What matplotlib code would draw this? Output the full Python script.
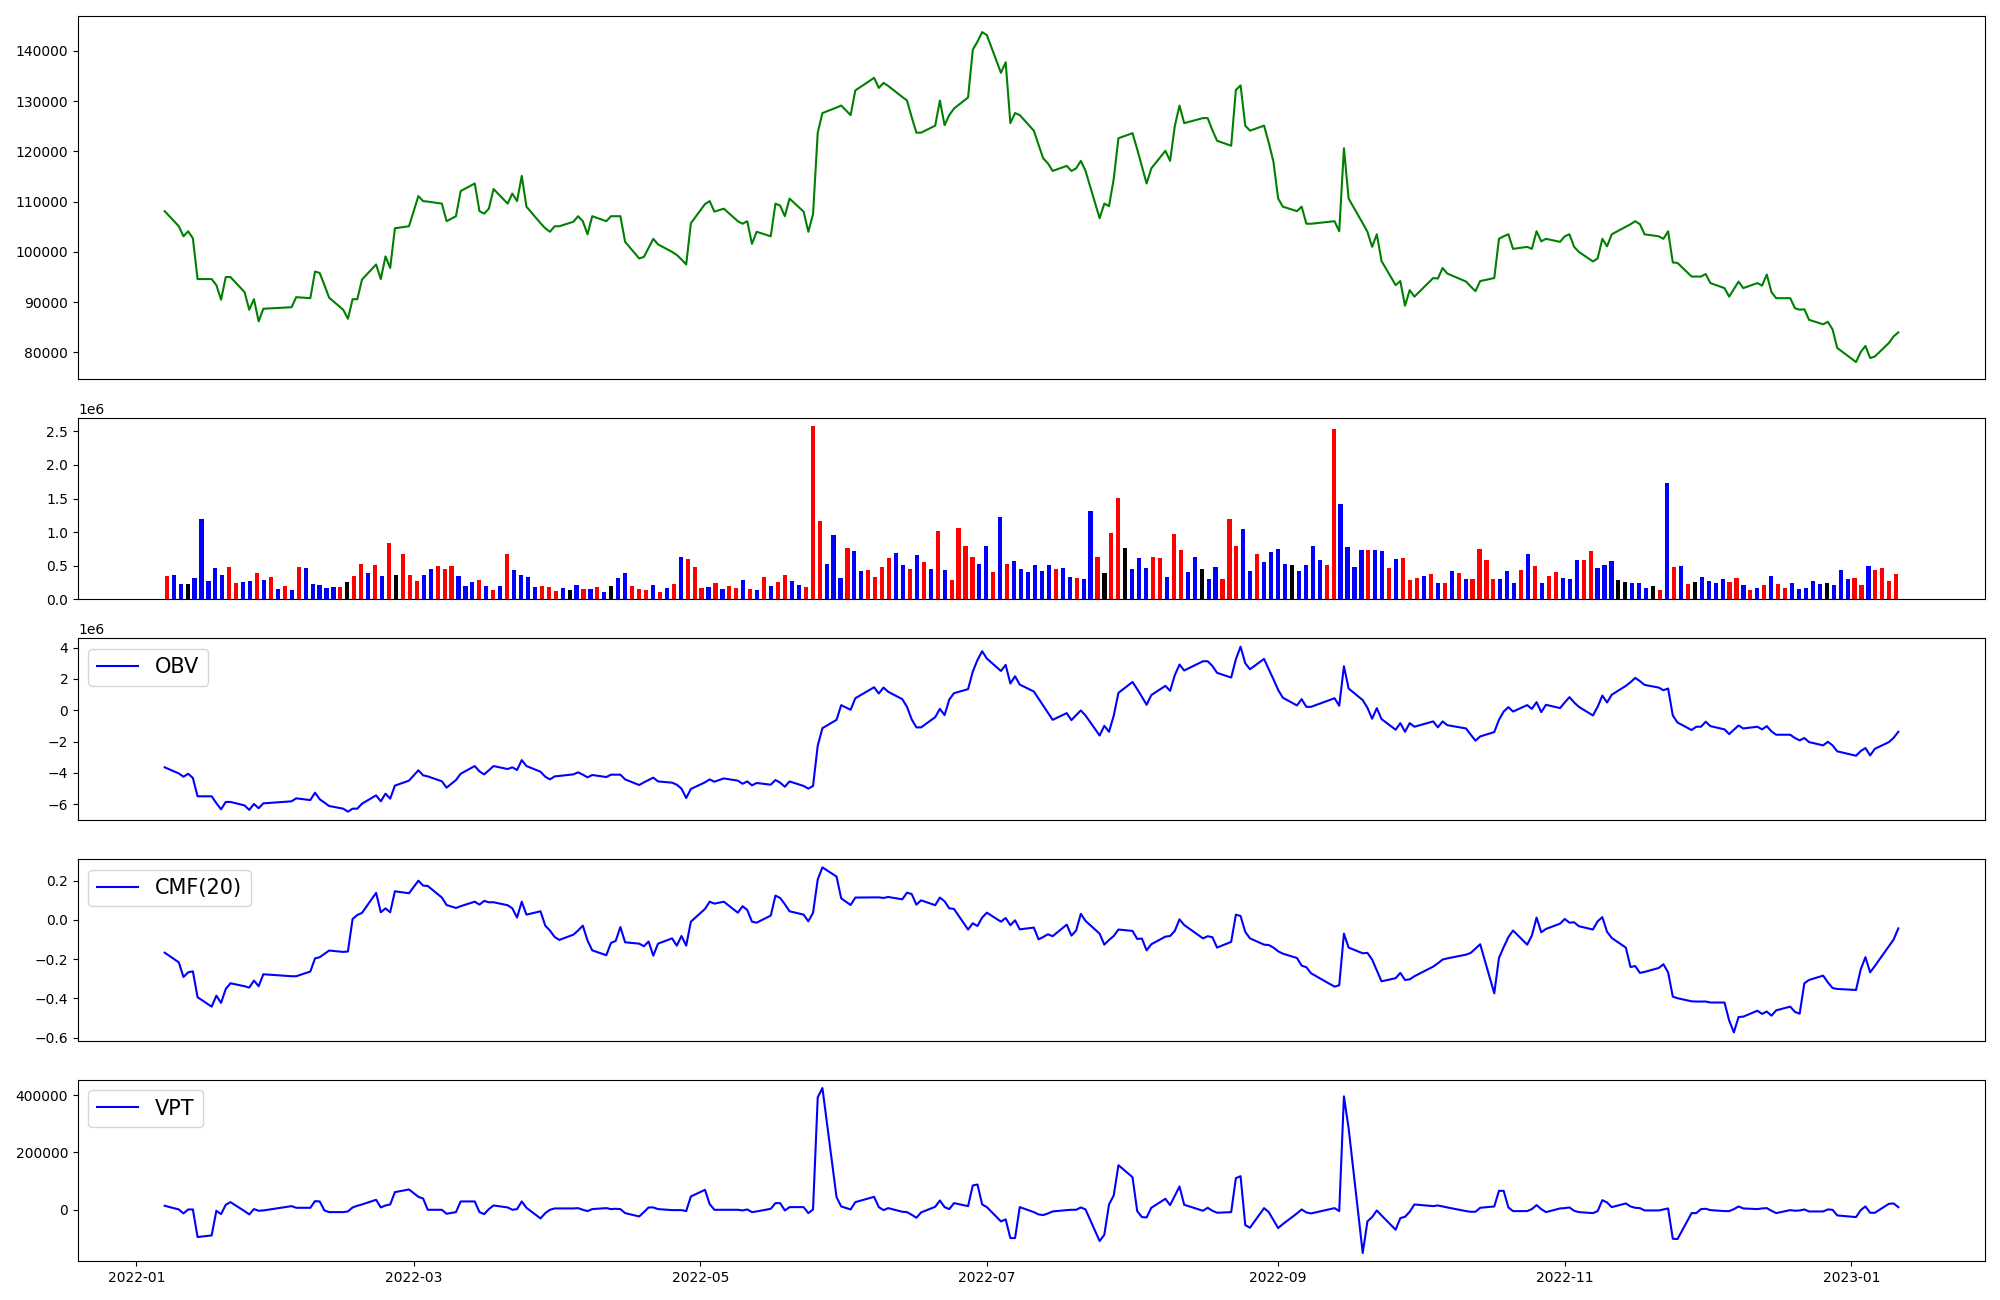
import matplotlib
matplotlib.use("Agg")
import matplotlib.pyplot as plt
import matplotlib.dates as mdates
import numpy as np
import pandas as pd

# jours de bourse KRX (jours fériés en semaine exclus)
feries = ["2022-01-31", "2022-02-01", "2022-02-02", "2022-03-01", "2022-03-09",
          "2022-05-05", "2022-06-01", "2022-06-06", "2022-08-15", "2022-09-09",
          "2022-09-12", "2022-10-03", "2022-10-10", "2022-12-30"]
dates = pd.bdate_range("2022-01-07", "2023-01-11", freq="C", holidays=feries)

close = [
    108100, 105100, 103100, 104100, 102700, 94600, 94600, 93400, 90500, 95000, 95000, 92000, 88500, 90600, 86200, 88700,
    89000, 91000, 90800, 96100, 95800, 93400, 90900, 88500, 86700, 90600, 90600, 94500, 97500, 94600, 99100, 96800, 104700, 105100,
    111100, 110100, 110000, 109600, 106100, 107100, 112100, 113600, 108100, 107600, 108600, 112500, 109600, 111600, 110100, 115100, 109000, 105700, 104700, 104000, 105100,
    105100, 106000, 107100, 106100, 103500, 107100, 106100, 107100, 107100, 107100, 102000, 98700, 99000, 100800, 102600, 101500, 100000, 99400, 98500, 97500, 105700,
    109500, 110100, 108000, 108600, 106100, 105600, 106100, 101600, 104000, 103100, 109600, 109200, 107100, 110600, 108000, 104000, 107500, 123700, 127600, 128700, 129100,
    127200, 132100, 134600, 132600, 133600, 133000, 130800, 130100, 126800, 123700, 123700, 125100, 130100, 125200, 127200, 128500, 130700, 140200, 141800, 143700,
    143100, 135600, 137700, 125600, 127600, 127200, 124100, 121300, 118600, 117600, 116100, 117100, 116100, 116600, 118100, 116100, 106700, 109600, 109100, 114500, 122600,
    123600, 120400, 117000, 113600, 116600, 120100, 118100, 125000, 129100, 125600, 126600, 126600, 124200, 122100, 121100, 132200, 133100, 125100, 124100, 125100, 121700, 117900,
    110600, 109000, 108100, 109000, 105600, 105600, 106100, 104100, 120600, 110600, 105700, 104000, 101000, 103500, 98200, 93400, 94200, 89300, 92400, 91100,
    94800, 94700, 96800, 95700, 94100, 93100, 92200, 94200, 94800, 102600, 103100, 103500, 100600, 101000, 100600, 104100, 102100, 102600, 102000,
    103100, 103500, 101000, 100000, 98100, 98700, 102600, 101100, 103500, 105000, 105500, 106100, 105500, 103500, 103100, 102600, 104100, 97900, 97800, 95100, 95100, 95100,
    95600, 93800, 92800, 91100, 92600, 94100, 92800, 93800, 93300, 95500, 92000, 90800, 90800, 88800, 88500, 88600, 86500, 85600, 86100, 84600, 80900,
    78100, 80100, 81300, 78900, 79200, 81900, 83200, 84000,
]

# volume en milliers de titres
volume_k = [
    342, 357, 223, 223, 313, 1190, 268, 461, 357, 476, 238, 253, 268, 387, 283, 327,
    149, 193, 134, 476, 461, 223, 208, 164, 179, 179, 253, 342, 521, 387, 506, 342, 833, 357,
    670, 357, 268, 357, 446, 491, 446, 491, 342, 193, 253, 283, 193, 134, 193, 670, 432, 357, 327, 179, 193,
    179, 119, 164, 134, 208, 149, 149, 179, 104, 193, 313, 387, 193, 149, 134, 208, 104, 164, 223, 625, 595,
    476, 164, 179, 238, 149, 193, 164, 283, 149, 134, 327, 193, 253, 357, 268, 208, 179, 2574, 1161, 521, 952,
    313, 759, 714, 417, 432, 327, 476, 610, 685, 506, 446, 655, 551, 446, 1012, 432, 283, 1057, 789, 625,
    521, 789, 402, 1220, 521, 565, 446, 402, 506, 417, 506, 446, 461, 327, 313, 298, 1310, 625, 387, 982, 1503,
    759, 446, 610, 461, 625, 610, 327, 967, 729, 402, 625, 446, 298, 476, 298, 1190, 789, 1042, 417, 670, 551, 699,
    744, 521, 506, 417, 506, 789, 580, 506, 2530, 1414, 774, 476, 729, 729, 729, 714, 461, 595, 610, 283,
    313, 342, 372, 238, 238, 417, 387, 298, 298, 744, 580, 298, 298, 417, 238, 432, 670, 491, 238,
    342, 402, 313, 298, 580, 580, 714, 461, 506, 565, 283, 253, 238, 238, 164, 193, 134, 1726, 476, 491, 223, 253,
    327, 268, 238, 298, 253, 313, 208, 134, 164, 208, 342, 223, 164, 238, 149, 164, 268, 223, 238, 208, 432,
    298, 313, 208, 491, 432, 461, 268, 372,
]

# r = hausse, b = baisse, k = inchangé
sens = ("rbbkbbbbbrrbbrbr" "brbrbbbbbrkrrbrbrk" "rrrbbrrrbbbrbrbrbbbbr" "rrbkbrbrbkbbrrrbrbrbr"
        "rrbrbrrbrbrbrrbbrrrbb" "brbbrrrrbbrbrbrbrrrr" "bbrbrbbbbbbrbbrbbrkrr" "kbbbrrbrrbbkbbrrrbbrbb"
        "bbkbbbbrrbbbbrbbrbrr" "rbrbrbrbrrrrbbbrbrb" "rrbbbrrbbbkkbbbkrbrbrk" "bbbbrrbrbrbrrbbbbbkbb"
        "brrbrrrr")

# OBV en millions
obv_m = [
    -3.64, -4.03, -4.24, -4.05, -4.32, -5.49, -5.49, -5.93, -6.32, -5.85, -5.85, -6.07, -6.36, -5.98, -6.25, -5.94,
    -5.81, -5.62, -5.73, -5.26, -5.68, -5.89, -6.11, -6.28, -6.47, -6.28, -6.28, -5.96, -5.43, -5.81, -5.32, -5.64, -4.81, -4.49,
    -3.83, -4.15, -4.22, -4.53, -4.94, -4.45, -4.05, -3.56, -3.90, -4.09, -3.83, -3.56, -3.75, -3.64, -3.81, -3.18, -3.56, -3.92, -4.24, -4.41, -4.22,
    -4.19, -4.09, -3.96, -4.11, -4.28, -4.13, -4.26, -4.11, -4.11, -4.11, -4.41, -4.77, -4.60, -4.45, -4.30, -4.54, -4.62, -4.75, -5.00, -5.60, -5.02,
    -4.60, -4.41, -4.56, -4.35, -4.49, -4.69, -4.54, -4.79, -4.64, -4.75, -4.45, -4.62, -4.88, -4.54, -4.83, -5.00, -4.83, -2.26, -1.14, -0.61, 0.33,
    0.03, 0.77, 1.47, 1.07, 1.45, 1.18, 0.71, 0.22, -0.58, -1.09, -1.09, -0.44, 0.09, -0.31, 0.69, 1.09, 1.35, 2.47, 3.21, 3.77,
    3.30, 2.51, 2.90, 1.71, 2.17, 1.64, 1.20, 0.75, 0.29, -0.16, -0.61, -0.18, -0.63, -0.31, -0.01, -0.33, -1.61, -0.99, -1.37, -0.35, 1.11,
    1.81, 1.35, 0.86, 0.35, 0.97, 1.56, 1.24, 2.24, 2.92, 2.54, 3.13, 3.13, 2.83, 2.39, 2.09, 3.26, 4.06, 3.00, 2.62, 3.28, 2.62, 1.98,
    1.30, 0.80, 0.31, 0.71, 0.22, 0.22, 0.77, 0.29, 2.81, 1.39, 0.65, 0.16, -0.54, 0.14, -0.56, -1.24, -0.82, -1.37, -0.82, -1.05,
    -0.71, -1.09, -0.71, -0.95, -1.16, -1.56, -1.94, -1.67, -1.39, -0.61, -0.08, 0.20, -0.08, 0.33, 0.09, 0.52, -0.12, 0.35, 0.14,
    0.50, 0.84, 0.50, 0.22, -0.33, 0.22, 0.94, 0.50, 0.99, 1.56, 1.79, 2.07, 1.86, 1.62, 1.45, 1.28, 1.39, -0.33, -0.78, -1.26, -1.05, -1.05,
    -0.73, -1.01, -1.22, -1.52, -1.24, -0.97, -1.16, -1.05, -1.22, -1.01, -1.35, -1.56, -1.56, -1.77, -1.92, -1.77, -2.03, -2.24, -2.01, -2.24, -2.62,
    -2.90, -2.60, -2.41, -2.88, -2.46, -2.03, -1.76, -1.37,
]

cmf20 = [
    -0.167, -0.216, -0.291, -0.267, -0.262, -0.394, -0.442, -0.386, -0.423, -0.352, -0.323, -0.338, -0.345, -0.309, -0.338, -0.277,
    -0.287, -0.287, -0.263, -0.196, -0.190, -0.173, -0.156, -0.163, -0.161, 0.005, 0.025, 0.036, 0.138, 0.039, 0.059, 0.039, 0.146, 0.136,
    0.200, 0.175, 0.173, 0.114, 0.076, 0.061, 0.070, 0.093, 0.078, 0.097, 0.090, 0.090, 0.075, 0.059, 0.012, 0.093, 0.027, 0.044, -0.029, -0.054, -0.087,
    -0.102, -0.075, -0.054, -0.029, -0.105, -0.155, -0.180, -0.117, -0.107, -0.036, -0.114, -0.121, -0.134, -0.110, -0.182, -0.121, -0.094, -0.131, -0.082, -0.131, -0.009,
    0.056, 0.093, 0.083, 0.093, 0.037, 0.070, 0.051, -0.009, -0.014, 0.022, 0.124, 0.112, 0.080, 0.044, 0.027, -0.007, 0.036, 0.206, 0.268, 0.221, 0.110,
    0.076, 0.114, 0.115, 0.115, 0.112, 0.117, 0.105, 0.139, 0.132, 0.078, 0.100, 0.075, 0.114, 0.095, 0.059, 0.056, -0.049, -0.017, -0.031, 0.012,
    0.037, -0.009, 0.010, -0.027, -0.002, -0.048, -0.039, -0.099, -0.087, -0.073, -0.083, -0.024, -0.080, -0.054, 0.031, -0.005, -0.070, -0.126, -0.102, -0.082, -0.049,
    -0.056, -0.097, -0.095, -0.155, -0.124, -0.085, -0.082, -0.056, 0.003, -0.026, -0.094, -0.083, -0.088, -0.141, -0.112, 0.027, 0.020, -0.061, -0.094, -0.126, -0.128, -0.141,
    -0.160, -0.172, -0.194, -0.233, -0.241, -0.272, -0.340, -0.333, -0.070, -0.141, -0.170, -0.168, -0.202, -0.257, -0.313, -0.297, -0.270, -0.306, -0.303, -0.287,
    -0.238, -0.221, -0.202, -0.196, -0.177, -0.168, -0.146, -0.124, -0.374, -0.194, -0.139, -0.088, -0.054, -0.126, -0.080, 0.012, -0.063, -0.046, -0.019,
    0.005, -0.014, -0.012, -0.032, -0.049, -0.007, 0.014, -0.060, -0.092, -0.141, -0.240, -0.235, -0.270, -0.265, -0.245, -0.226, -0.267, -0.391, -0.399, -0.415, -0.416, -0.416,
    -0.416, -0.421, -0.421, -0.513, -0.573, -0.495, -0.493, -0.463, -0.479, -0.467, -0.488, -0.461, -0.442, -0.469, -0.478, -0.323, -0.306, -0.284, -0.318, -0.347, -0.352,
    -0.357, -0.252, -0.190, -0.267, -0.235, -0.134, -0.100, -0.043,
]

vpt = [
    13500, 700, -13200, 700, 700, -95700, -89900, -3900, -15600, 17000, 26200, -5100, -16700, 1900, -3900, -2800,
    12300, 6500, 6500, 29700, 28600, -2800, -8600, -8600, -6300, 7700, 13500, 18100, 34400, 7700, 14600, 18100, 61100, 70400,
    44800, 39000, -500, -500, -14400, -8600, 28600, 28600, -8600, -15600, 1900, 14600, 7700, -500, 1900, 28600, 6500, -30700, -12100, -500, 4200,
    4200, 4200, 5300, -500, -5100, 1900, 5300, 1900, 3000, 1900, -12100, -23700, -8600, 7700, 7700, 1900, -1600, -1600, -1600, -5100, 46000,
    69200, 19300, -500, -500, -500, -2800, 700, -8600, -6300, 3000, 22800, 22800, -2800, 8800, 8800, -12100, 700, 392100, 424600, 43700, 11100,
    700, 26200, 44800, 8800, -1600, 5300, -7400, -8600, -17900, -28300, -9800, 10000, 32000, 8800, 1900, 22800, 12300, 84300, 87800, 18100,
    8800, -41100, -34100, -99200, -99200, 8800, -8600, -16700, -19000, -13200, -6300, -1600, -500, -500, 7700, 700, -109600, -87600, 18100, 49500, 155200,
    113400, -5100, -26000, -27200, 6500, 37900, 15800, 48300, 80800, 17000, -3900, 6500, -3900, -10900, -8600, 109900, 116800, -53900, -63200, 5300, -8600, -36500,
    -64300, -50400, -13200, 700, -9800, -13200, 5300, -5100, 395600, 284100, -151400, -41100, -26000, -2800, -20200, -70100, -29500, -24900, -7400, 18100,
    12300, 14600, 11100, 7700, -5100, -7400, -7400, 6500, 11100, 65700, 65700, 7700, -5100, -5100, 1900, 15800, 1900, -8600, 4200,
    5300, 7700, -3900, -8600, -12100, -5100, 33200, 25100, 8800, 21600, 11100, 6500, 5300, -2800, -2800, 700, 4200, -101600, -102700, -12100, -12100, 1900,
    3000, -1600, -5100, -5100, 1900, 11100, 4200, 1900, 4200, 5300, -3900, -12100, -1600, -3900, -2800, 700, -6300, -6300, 700, -500, -20200,
    -26000, -1600, 11100, -10900, -10900, 20400, 21600, 8800,
]

couleurs = {"r": "red", "b": "blue", "k": "black"}

fig = plt.figure(figsize=(20, 13), dpi=100)
gs = fig.add_gridspec(5, 1, height_ratios=[2, 1, 1, 1, 1], hspace=0.18,
                      left=0.039, right=0.9925, top=0.988, bottom=0.0298)
ax_prix = fig.add_subplot(gs[0])
ax_vol = fig.add_subplot(gs[1])
ax_obv = fig.add_subplot(gs[2])
ax_cmf = fig.add_subplot(gs[3])
ax_vpt = fig.add_subplot(gs[4])

ax_prix.plot(dates, close, color="green")

# volume : une barre par séance, positionnée par rang
ax_vol.bar(np.arange(len(volume_k)), np.array(volume_k) * 1000, width=0.6,
           color=[couleurs[s] for s in sens])

ax_obv.plot(dates, np.array(obv_m) * 1e6, color="blue", label="OBV")
ax_cmf.plot(dates, cmf20, color="blue", label="CMF(20)")
ax_vpt.plot(dates, vpt, color="blue", label="VPT")

for ax in (ax_obv, ax_cmf, ax_vpt):
    ax.legend(loc="upper left", fontsize=15)

for ax in (ax_prix, ax_vol, ax_obv, ax_cmf):
    ax.set_xticks([])

ax_vpt.xaxis.set_major_locator(mdates.MonthLocator(interval=2))
ax_vpt.xaxis.set_major_formatter(mdates.DateFormatter("%Y-%m"))

fig.savefig("out.png", dpi=100)
